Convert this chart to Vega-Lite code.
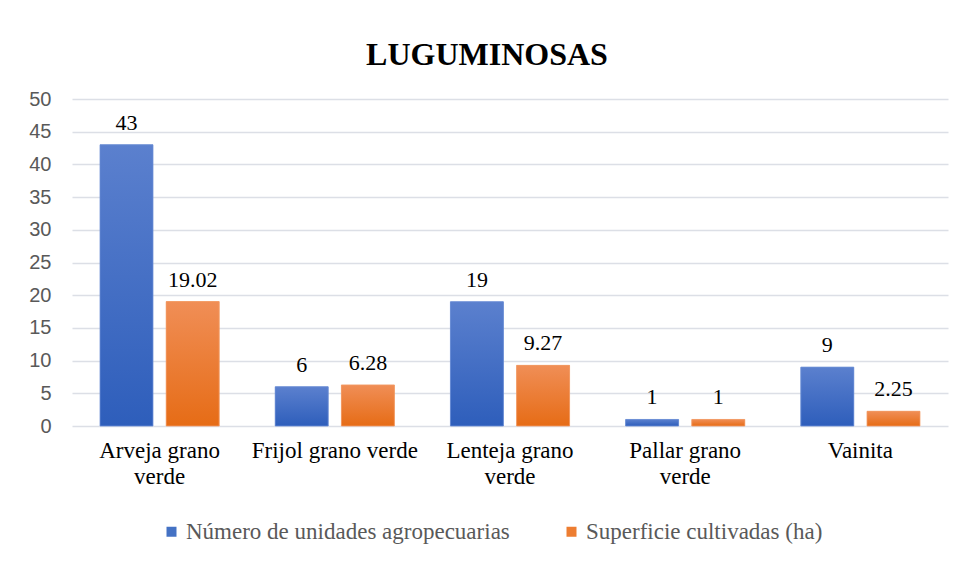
{
  "$schema": "https://vega.github.io/schema/vega-lite/v6.json",
  "width": 876,
  "height": 327,
  "autosize": "none",
  "padding": {"left": 72, "top": 99, "right": 16, "bottom": 136},
  "background": "white",
  "config": {"view": {"stroke": null}},
  "title": {
    "text": "LUGUMINOSAS",
    "font": "Liberation Serif",
    "fontSize": 32,
    "fontWeight": "bold",
    "color": "#000000",
    "anchor": "middle",
    "frame": "group",
    "dx": -23,
    "offset": 17
  },
  "data": {
    "values": [
      {"cultivo": "Arveja grano verde", "serie": "Número de unidades agropecuarias", "valor": 43},
      {"cultivo": "Arveja grano verde", "serie": "Superficie cultivadas (ha)", "valor": 19.02},
      {"cultivo": "Frijol grano verde", "serie": "Número de unidades agropecuarias", "valor": 6},
      {"cultivo": "Frijol grano verde", "serie": "Superficie cultivadas (ha)", "valor": 6.28},
      {"cultivo": "Lenteja grano verde", "serie": "Número de unidades agropecuarias", "valor": 19},
      {"cultivo": "Lenteja grano verde", "serie": "Superficie cultivadas (ha)", "valor": 9.27},
      {"cultivo": "Pallar grano verde", "serie": "Número de unidades agropecuarias", "valor": 1},
      {"cultivo": "Pallar grano verde", "serie": "Superficie cultivadas (ha)", "valor": 1},
      {"cultivo": "Vainita", "serie": "Número de unidades agropecuarias", "valor": 9},
      {"cultivo": "Vainita", "serie": "Superficie cultivadas (ha)", "valor": 2.25}
    ]
  },
  "encoding": {
    "x": {
      "field": "cultivo",
      "type": "nominal",
      "sort": null,
      "scale": {"paddingInner": 0.32, "paddingOuter": 0.16},
      "axis": {
        "title": null,
        "labelAngle": 0,
        "labelFont": "Liberation Serif",
        "labelFontSize": 23,
        "labelColor": "#000000",
        "labelLineHeight": 26,
        "labelPadding": 13,
        "labelLimit": 300,
        "ticks": false,
        "domain": false,
        "labelExpr": "datum.value == 'Arveja grano verde' ? ['Arveja grano', 'verde'] : datum.value == 'Lenteja grano verde' ? ['Lenteja grano', 'verde'] : datum.value == 'Pallar grano verde' ? ['Pallar grano', 'verde'] : datum.label"
      }
    },
    "xOffset": {
      "field": "serie",
      "type": "nominal",
      "scale": {"domain": ["Número de unidades agropecuarias", "Superficie cultivadas (ha)"], "paddingInner": 0.2, "paddingOuter": 0}
    },
    "y": {
      "field": "valor",
      "type": "quantitative",
      "scale": {"domain": [0, 50], "nice": false},
      "axis": {
        "title": null,
        "values": [0, 5, 10, 15, 20, 25, 30, 35, 40, 45, 50],
        "labelFont": "Liberation Sans",
        "labelFontSize": 20,
        "labelColor": "#595959",
        "labelPadding": 21,
        "ticks": false,
        "domain": false,
        "gridColor": "#DCDFE6",
        "gridWidth": 1.6
      }
    }
  },
  "layer": [
    {
      "mark": {"type": "bar"},
      "encoding": {
        "color": {
          "field": "serie",
          "type": "nominal",
          "scale": {"domain": ["Número de unidades agropecuarias", "Superficie cultivadas (ha)"], "range": ["#4472C4", "#ED7D31"]},
          "legend": {
            "title": null,
            "orient": "none",
            "direction": "horizontal",
            "legendX": 88,
            "legendY": 421,
            "symbolType": "square",
            "symbolSize": 100,
            "symbolStrokeWidth": 0,
            "labelFont": "Liberation Serif",
            "labelFontSize": 23,
            "labelColor": "#595959",
            "labelLimit": 500,
            "labelOffset": 3,
            "columnPadding": 50
          }
        }
      }
    },
    {
      "transform": [{"filter": "datum.serie == 'Número de unidades agropecuarias'"}],
      "mark": {
        "type": "bar",
        "stroke": "#6A8DD6",
        "strokeWidth": 0.8,
        "fill": {"gradient": "linear", "x1": 0, "y1": 0, "x2": 0, "y2": 1, "stops": [{"offset": 0, "color": "#5B80CE"}, {"offset": 1, "color": "#2E5EBB"}]}
      }
    },
    {
      "transform": [{"filter": "datum.serie == 'Superficie cultivadas (ha)'"}],
      "mark": {
        "type": "bar",
        "stroke": "#F29A64",
        "strokeWidth": 0.8,
        "fill": {"gradient": "linear", "x1": 0, "y1": 0, "x2": 0, "y2": 1, "stops": [{"offset": 0, "color": "#F08E56"}, {"offset": 1, "color": "#E66C16"}]}
      }
    },
    {
      "mark": {"type": "text", "baseline": "bottom", "dy": -10, "font": "Liberation Serif", "fontSize": 22, "color": "#000000"},
      "encoding": {"text": {"field": "valor", "type": "quantitative"}}
    }
  ]
}
